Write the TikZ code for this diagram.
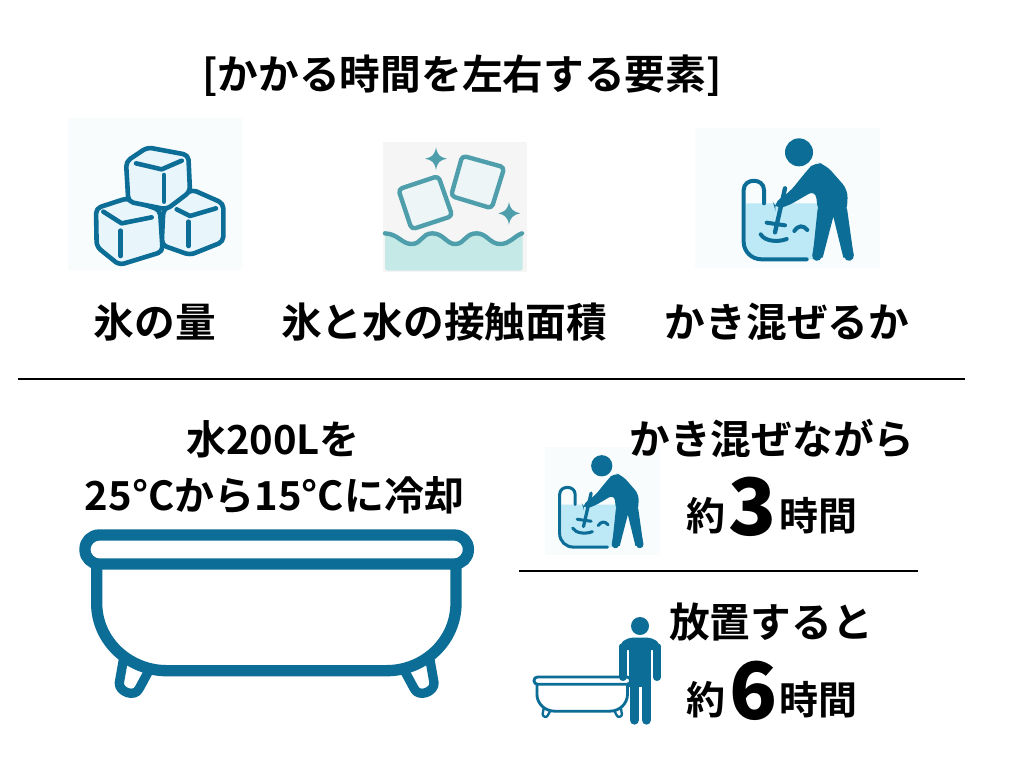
\documentclass[tikz,border=0pt]{standalone}
\usepackage{fontspec}
\setmainfont{Noto Sans CJK JP}[BoldFont={Noto Sans CJK JP Bold}]
\newfontfamily\heavyfont{Noto Sans CJK JP Black}
\definecolor{tubblue}{HTML}{0C6E96}
\definecolor{iconbg}{HTML}{F8FCFD}
\definecolor{iceface}{HTML}{E8F6FC}
\definecolor{stirwater}{HTML}{BDE8F6}
\definecolor{teal1}{HTML}{4E9EAC}
\definecolor{tealface}{HTML}{EDF5F6}
\definecolor{tealwater}{HTML}{C5E9E6}
\definecolor{greybg}{HTML}{F5F5F5}
\tikzset{
  label40/.style={font=\fontsize{40.7}{48}\selectfont\bfseries,inner sep=0pt,text=black},
  labelw/.style={font=\fontsize{40}{48}\selectfont\bfseries,inner sep=0pt,text=black},
  label36/.style={font=\fontsize{39}{44}\selectfont\bfseries,inner sep=0pt,text=black},
  bignum/.style={font=\fontsize{79}{90}\heavyfont\selectfont,inner sep=0pt,text=black},
  divider/.style={draw=black,line width=2.5pt},
}
% bath tub: #1 x, #2 y shift, #3 scale (drawn in units of 1/3 px)
\newcommand{\tubicon}[3]{%
\begin{scope}[shift={(#1,#2)},scale=#3/3,draw=tubblue,line width={#3*34/3},line join=round,line cap=round]
  \draw[rounded corners={#3*14pt}] (45,45) rectangle (1195,132);
  \draw (80,135) -- (80,250) .. controls (80,363) and (177,452) .. (290,452) -- (950,452) .. controls (1063,452) and (1158,363) .. (1158,250) -- (1158,135);
  \draw[line width={#3*28/3}] (160,420) -- (148,488) .. controls (145,515) and (195,535) .. (208,505) -- (235,455);
  \draw[line width={#3*28/3}] (1080,420) -- (1092,488) .. controls (1095,515) and (1045,535) .. (1032,505) -- (1005,455);
\end{scope}}
% stirring person: drawn in units of 1/3 px
\newcommand{\stiricon}[3]{%
\begin{scope}[shift={(#1,#2)},scale=#3/3,line join=round,line cap=round]
  \fill[stirwater] (168,235) -- (385,235) -- (385,403) -- (215,403) .. controls (185,403) and (168,380) .. (168,350) -- cycle;
  \draw[tubblue,line width={#3*12/3}] (350,403) -- (215,403) .. controls (185,403) and (161,380) .. (161,350) -- (161,195) .. controls (161,158) and (222,158) .. (222,195) -- (222,235);
  \fill[tubblue] (327,82) circle[radius=42];
  \fill[tubblue,rounded corners={#3*8pt}] (348,140) -- (375,110) -- (408,120) -- (474,195) -- (470,265) -- (385,265) -- (376,195) -- (290,245) -- (255,252) -- (250,235) -- (300,200) -- cycle;
  \fill[tubblue] (383,250) -- (471,250) -- (491,393) -- (460,398) -- (430,275) -- (398,398) -- (368,393) -- cycle;
  \draw[tubblue,line width={#3*29/3}] (398,300) -- (381,393);
  \draw[tubblue,line width={#3*29/3}] (458,300) -- (477,393);
  \draw[tubblue,line width={#3*13/3}] (285,190) -- (255,322);
  \draw[tubblue,line width={#3*12/3}] (230,293) -- (285,301);
  \draw[tubblue,line width={#3*12/3}] (212,328) .. controls (225,350) and (265,352) .. (290,342);
  \draw[tubblue,line width={#3*12/3}] (313,318) .. controls (325,300) and (340,300) .. (352,315);
\end{scope}}
\begin{document}
\begin{tikzpicture}[x=1pt,y=-1pt]
\useasboundingbox (0,0) rectangle (1024,761);
\fill[white] (0,0) rectangle (1024,761);
% dividers
\coordinate (d1a) at (18,379); \coordinate (d1b) at (965,379);
\coordinate (d2a) at (519,571); \coordinate (d2b) at (918,571);
\draw[divider] (d1a) -- (d1b);
\draw[divider] (d2a) -- (d2b);
% ice cubes
\begin{scope}[shift={(60,110)},scale=1/3,line join=round,line cap=round,draw=tubblue,line width=4.6pt]
  \fill[iconbg] (25,25) rectangle (545,480);
  \draw[fill=iceface,rounded corners=5pt] (395,238) -- (490,280) -- (490,395) -- (390,435) -- (305,405) -- (310,300) -- cycle;
  \draw (350,298) -- (390,318) -- (468,295);
  \draw (386,335) -- (386,408);
  \draw[fill=iceface,rounded corners=5pt] (108,295) -- (200,265) -- (300,300) -- (308,425) -- (178,465) -- (110,410) -- cycle;
  \draw (130,305) -- (185,340) -- (275,322);
  \draw (182,362) -- (182,438);
  \draw[fill=iceface,rounded corners=5pt] (198,155) -- (262,112) -- (385,135) -- (390,245) -- (320,298) -- (205,275) -- cycle;
  \draw (228,160) -- (305,178) -- (365,152);
  \draw (312,195) -- (312,275);
\end{scope}
% ice and water
\begin{scope}[shift={(375,130)},scale=1/3,line join=round,line cap=round,draw=teal1,line width=4.4pt]
  \fill[greybg] (25,35) rectangle (455,425);
  \fill[tealwater,rounded corners=3pt] (30,312) .. controls (70,312) and (80,342) .. (110,342) .. controls (140,342) and (140,310) .. (172,310) .. controls (205,310) and (215,342) .. (240,342) .. controls (270,342) and (270,310) .. (305,310) .. controls (335,310) and (345,342) .. (375,342) .. controls (405,342) and (415,320) .. (443,310) -- (443,422) -- (30,422) -- cycle;
  \draw (30,310) .. controls (70,312) and (80,342) .. (110,342) .. controls (140,342) and (140,310) .. (172,310) .. controls (205,310) and (215,342) .. (240,342) .. controls (270,342) and (270,310) .. (305,310) .. controls (335,310) and (345,342) .. (375,342) .. controls (405,342) and (415,320) .. (441,310);
  \draw[fill=tealface,rounded corners=4pt] (70,178) -- (190,138) -- (232,258) -- (110,298) -- cycle;
  \draw[fill=tealface,rounded corners=4pt] (262,77) -- (388,112) -- (350,235) -- (228,198) -- cycle;
  \fill[teal1] (183,52) .. controls (187,75) and (195,82) .. (216,86) .. controls (195,90) and (187,97) .. (183,120) .. controls (179,97) and (171,90) .. (150,86) .. controls (171,82) and (179,75) .. (183,52) -- cycle;
  \fill[teal1] (402,216) .. controls (406,238) and (414,245) .. (436,250) .. controls (414,255) and (406,262) .. (402,284) .. controls (398,262) and (390,255) .. (370,250) .. controls (390,245) and (398,238) .. (402,216) -- cycle;
\end{scope}
% stirring icons
\fill[iconbg] (695,128) rectangle (880,268);
\stiricon{690}{125}{1}
\fill[iconbg] (545,447) rectangle (660,555);
\stiricon{518.9}{445}{0.76}
% tubs
\tubicon{70}{520}{1}
\tubicon{530.2}{673.2}{0.252}
% standing person
\begin{scope}[shift={(520,600)},scale=1/3,line join=round,line cap=round]
  \fill[tubblue] (360,78) circle[radius=27];
  \fill[tubblue,rounded corners=6pt] (298,150) -- (298,135) -- (320,113) -- (400,113) -- (422,135) -- (422,150) -- cycle;
  \draw[tubblue,line width=7.3pt] (309,140) -- (309,232);
  \draw[tubblue,line width=7.3pt] (411,140) -- (411,232);
  \fill[tubblue] (328,125) rectangle (394,262);
  \draw[tubblue,line width=9.3pt] (343,250) -- (343,360);
  \draw[tubblue,line width=9.3pt] (379,250) -- (379,360);
\end{scope}
% title and labels
\node[label40] (title) at (462,76) {[かかる時間を左右する要素]};
\node[label40] (l1) at (155,322) {氷の量};
\node[label40] (l2) at (444,322) {氷と水の接触面積};
\node[label40] (l3) at (787,322) {かき混ぜるか};
\node[labelw] (w1) at (273,439) {水200Lを};
\node[labelw] (w2) at (274.5,495) {25°Cから15°Cに冷却};
\node[label40] (r1) at (772,439) {かき混ぜながら};
\node[label36] (r2a) at (705.5,516) {約};
\node[bignum] (r2b) at (753,507) {3};
\node[label36] (r2c) at (818.5,516) {時間};
\node[label40] (r3) at (771,622) {放置すると};
\node[label36] (r4a) at (705.5,700) {約};
\node[bignum] (r4b) at (753.5,690.5) {6};
\node[label36] (r4c) at (818.5,700) {時間};
\end{tikzpicture}
\end{document}
